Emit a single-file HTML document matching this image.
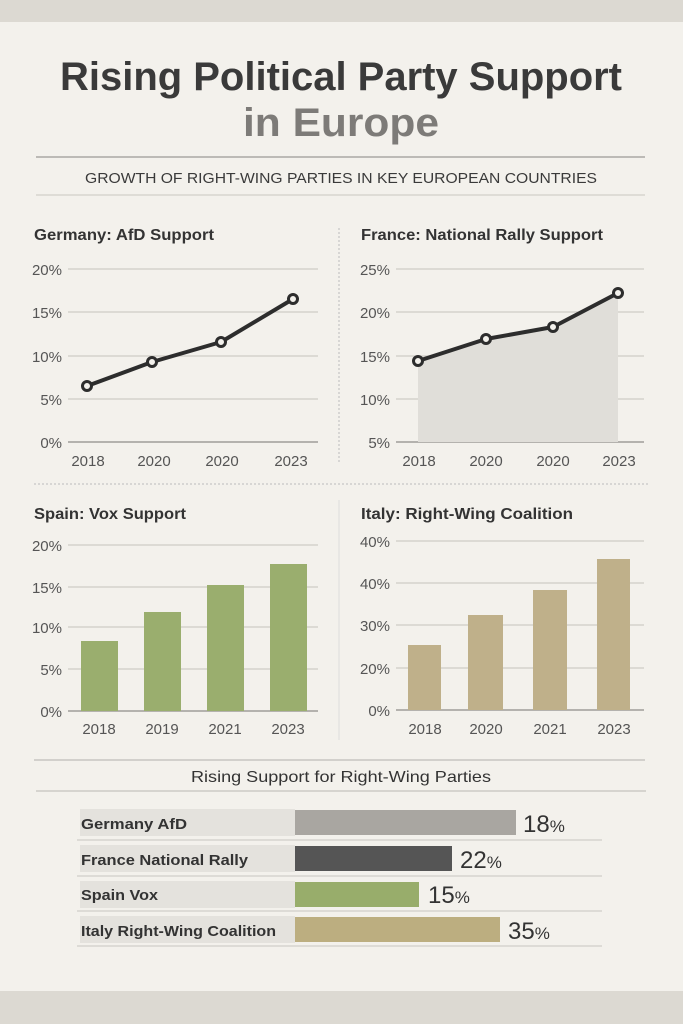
<!DOCTYPE html>
<html><head><meta charset="utf-8"><style>
html,body{margin:0;padding:0;background:#f3f1ec;}
svg{display:block;font-family:"Liberation Sans",sans-serif;}
</style></head><body>
<svg width="683" height="1024" viewBox="0 0 683 1024">
<rect width="683" height="1024" fill="#f3f1ec"/>
<rect width="683" height="22" fill="#dcd9d2"/>
<rect y="991" width="683" height="33" fill="#dcd9d2"/>
<text x="341" y="90" text-anchor="middle" font-size="40" font-weight="bold" fill="#3a3a3a" textLength="562" lengthAdjust="spacingAndGlyphs">Rising Political Party Support</text>
<text x="341" y="136" text-anchor="middle" font-size="40" font-weight="bold" fill="#7d7b78" textLength="196" lengthAdjust="spacingAndGlyphs">in Europe</text>
<line x1="36" y1="157" x2="645" y2="157" stroke="#9c9a96" stroke-width="1.2"/>
<text x="341" y="183" text-anchor="middle" font-size="15" fill="#3a3a3a" textLength="512" lengthAdjust="spacingAndGlyphs">GROWTH OF RIGHT-WING PARTIES IN KEY EUROPEAN COUNTRIES</text>
<line x1="36" y1="195" x2="645" y2="195" stroke="#c8c6c1" stroke-width="1"/>
<line x1="339" y1="228" x2="339" y2="462" stroke="#bbb" stroke-dasharray="2,2"/>
<line x1="34" y1="484" x2="650" y2="484" stroke="#bbb" stroke-dasharray="2,2"/>
<line x1="339" y1="500" x2="339" y2="740" stroke="#ddd" stroke-width="1"/>
<g font-size="16" font-weight="bold" fill="#333">
<text x="34" y="240" textLength="180" lengthAdjust="spacingAndGlyphs">Germany: AfD Support</text>
<text x="361" y="240" textLength="242" lengthAdjust="spacingAndGlyphs">France: National Rally Support</text>
<text x="34" y="519" textLength="152" lengthAdjust="spacingAndGlyphs">Spain: Vox Support</text>
<text x="361" y="519" textLength="212" lengthAdjust="spacingAndGlyphs">Italy: Right-Wing Coalition</text>
</g>
<g stroke="#cfccc6" stroke-width="1.2">
<line x1="68" y1="269" x2="318" y2="269"/><line x1="68" y1="312" x2="318" y2="312"/><line x1="68" y1="356" x2="318" y2="356"/><line x1="68" y1="399" x2="318" y2="399"/>
<line x1="396" y1="269" x2="644" y2="269"/><line x1="396" y1="312" x2="644" y2="312"/><line x1="396" y1="356" x2="644" y2="356"/><line x1="396" y1="399" x2="644" y2="399"/>
<line x1="68" y1="545" x2="318" y2="545"/><line x1="68" y1="587" x2="318" y2="587"/><line x1="68" y1="627" x2="318" y2="627"/><line x1="68" y1="669" x2="318" y2="669"/>
<line x1="396" y1="541" x2="644" y2="541"/><line x1="396" y1="583" x2="644" y2="583"/><line x1="396" y1="625" x2="644" y2="625"/><line x1="396" y1="668" x2="644" y2="668"/>
</g>
<g stroke="#8e8c88" stroke-width="1.3">
<line x1="68" y1="442" x2="318" y2="442"/><line x1="396" y1="442" x2="644" y2="442"/>
<line x1="68" y1="711" x2="318" y2="711"/><line x1="396" y1="710" x2="644" y2="710"/>
</g>
<g font-size="15" fill="#555" text-anchor="end">
<text x="62" y="275">20%</text><text x="62" y="318">15%</text><text x="62" y="362">10%</text><text x="62" y="405">5%</text><text x="62" y="448">0%</text>
<text x="390" y="275">25%</text><text x="390" y="318">20%</text><text x="390" y="362">15%</text><text x="390" y="405">10%</text><text x="390" y="448">5%</text>
<text x="62" y="551">20%</text><text x="62" y="593">15%</text><text x="62" y="633">10%</text><text x="62" y="675">5%</text><text x="62" y="717">0%</text>
<text x="390" y="547">40%</text><text x="390" y="589">40%</text><text x="390" y="631">30%</text><text x="390" y="674">20%</text><text x="390" y="716">0%</text>
</g>
<g font-size="15" fill="#555" text-anchor="middle">
<text x="88" y="466">2018</text><text x="154" y="466">2020</text><text x="222" y="466">2020</text><text x="291" y="466">2023</text>
<text x="419" y="466">2018</text><text x="486" y="466">2020</text><text x="553" y="466">2020</text><text x="619" y="466">2023</text>
<text x="99" y="734">2018</text><text x="162" y="734">2019</text><text x="225" y="734">2021</text><text x="288" y="734">2023</text>
<text x="425" y="734">2018</text><text x="486" y="734">2020</text><text x="550" y="734">2021</text><text x="614" y="734">2023</text>
</g>
<polygon points="418,361 486,339 553,327 618,293 618,442 418,442" fill="#e0ded9"/>
<g fill="none" stroke="#2d2d2d" stroke-width="4" stroke-linejoin="round">
<polyline points="87,386 152,362 221,342 293,299"/>
<polyline points="418,361 486,339 553,327 618,293"/>
</g>
<g fill="#f3f1ec" stroke="#2d2d2d" stroke-width="3">
<circle cx="87" cy="386" r="4.5"/><circle cx="152" cy="362" r="4.5"/><circle cx="221" cy="342" r="4.5"/><circle cx="293" cy="299" r="4.5"/>
<circle cx="418" cy="361" r="4.5"/><circle cx="486" cy="339" r="4.5"/><circle cx="553" cy="327" r="4.5"/><circle cx="618" cy="293" r="4.5"/>
</g>
<g fill="#9aae6e">
<rect x="81" y="641" width="37" height="70"/><rect x="144" y="612" width="37" height="99"/><rect x="207" y="585" width="37" height="126"/><rect x="270" y="564" width="37" height="147"/>
</g>
<g fill="#bfb08a">
<rect x="408" y="645" width="33" height="65"/><rect x="468" y="615" width="35" height="95"/><rect x="533" y="590" width="34" height="120"/><rect x="597" y="559" width="33" height="151"/>
</g>
<line x1="34" y1="760" x2="645" y2="760" stroke="#c8c6c1" stroke-width="1.5"/>
<text x="341" y="782" text-anchor="middle" font-size="16" fill="#333" textLength="300" lengthAdjust="spacingAndGlyphs">Rising Support for Right-Wing Parties</text>
<line x1="36" y1="791" x2="646" y2="791" stroke="#b9b7b2" stroke-width="1"/>
<g fill="#e4e2dd">
<rect x="80" y="809" width="215" height="27"/><rect x="80" y="845" width="215" height="27"/><rect x="80" y="881" width="215" height="27"/><rect x="80" y="916" width="215" height="27"/>
</g>
<rect x="295" y="810" width="221" height="25" fill="#a9a6a1"/>
<rect x="295" y="846" width="157" height="25" fill="#555555"/>
<rect x="295" y="882" width="124" height="25" fill="#98ad6b"/>
<rect x="295" y="917" width="205" height="25" fill="#bcae80"/>
<g stroke="#d6d4cf" stroke-width="1.5">
<line x1="77" y1="840" x2="602" y2="840"/><line x1="77" y1="876" x2="602" y2="876"/><line x1="77" y1="911" x2="602" y2="911"/><line x1="77" y1="946" x2="602" y2="946"/>
</g>
<g font-size="15" font-weight="bold" fill="#333">
<text x="81" y="829" textLength="106" lengthAdjust="spacingAndGlyphs">Germany AfD</text>
<text x="81" y="865" textLength="167" lengthAdjust="spacingAndGlyphs">France National Rally</text>
<text x="81" y="900" textLength="77" lengthAdjust="spacingAndGlyphs">Spain Vox</text>
<text x="81" y="936" textLength="195" lengthAdjust="spacingAndGlyphs">Italy Right-Wing Coalition</text>
</g>
<g font-size="24" fill="#333">
<text x="523" y="832">18<tspan font-size="17">%</tspan></text>
<text x="460" y="868">22<tspan font-size="17">%</tspan></text>
<text x="428" y="903">15<tspan font-size="17">%</tspan></text>
<text x="508" y="939">35<tspan font-size="17">%</tspan></text>
</g>
</svg>
</body></html>
